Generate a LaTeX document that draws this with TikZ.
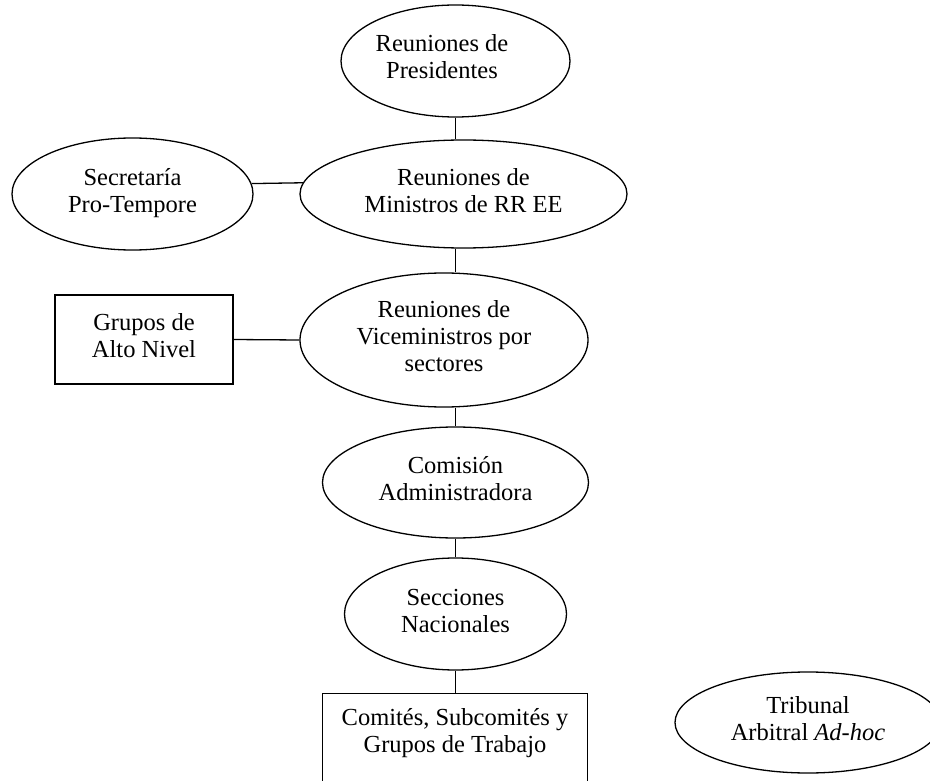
\documentclass[tikz,border=0pt]{standalone}
\usepackage{fontspec}
\setmainfont{Liberation Serif}
\usetikzlibrary{shapes.geometric}
% uniform line strut so that every text line has the same height and depth
\newcommand\lstrut{\rule[-8pt]{0pt}{25pt}}
\begin{document}
\begin{tikzpicture}[x=1pt,y=-1pt,
  every node/.style={font=\fontsize{24.5}{27}\selectfont, text=black},
  oval/.style={ellipse, draw=black, line width=1.3pt, inner sep=0pt, align=center},
  box/.style={rectangle, draw=black, line width=1.3pt, inner sep=0pt, align=center},
  link/.style={draw=black, line width=1.3pt},
  plain/.style={inner sep=0pt, align=center}]
\useasboundingbox (0,0) rectangle (930,781);
\clip (0,0) rectangle (930,781);
\fill[white] (0,0) rectangle (930,781);

% main chain
\node[oval, minimum width=229pt, minimum height=112pt] (pres) at (455.5,61) {};
\node[plain] (presT) at (442,61) {\lstrut Reuniones de\\\lstrut Presidentes};
\node[oval, minimum width=327pt, minimum height=108pt] (min) at (463.5,194)
  {\lstrut Reuniones de\\\lstrut Ministros de RR EE};
\node[oval, minimum width=288pt, minimum height=134pt] (vice) at (444,340)
  {\lstrut Reuniones de\\\lstrut Viceministros por\\\lstrut sectores};
\node[oval, minimum width=266pt, minimum height=111pt] (com) at (455.5,482.5)
  {\lstrut Comisión\\\lstrut Administradora};
\node[oval, minimum width=222pt, minimum height=112pt] (secc) at (455.5,614)
  {\lstrut Secciones\\\lstrut Nacionales};
\node[box, minimum width=265pt, text height=59pt, text depth=48pt, anchor=north] (cmt) at (455,693)
  {\lstrut Comités, Subcomités y\\\lstrut Grupos de Trabajo};

% side bodies
\node[oval, minimum width=241pt, minimum height=112pt] (sec) at (132.5,194)
  {\lstrut Secretaría\\\lstrut Pro-Tempore};
\node[box, minimum width=178pt, minimum height=89pt] (grp) at (144,339.5)
  {\lstrut Grupos de\\\lstrut Alto Nivel};
\node[oval, minimum width=266pt, minimum height=101pt] (trib) at (808,722.5)
  {\lstrut Tribunal\\\lstrut Arbitral \textit{Ad-hoc}};

% connectors
\draw[link] (pres.south) -- (pres.south |- min.north);
\draw[link] (pres.south |- min.south) -- (pres.south |- vice.north);
\draw[link] (pres.south |- vice.south) -- (com.north);
\draw[link] (com.south) -- (secc.north);
\draw[link] (secc.south) -- (secc.south |- cmt.north);
\draw[link] (sec.5.3) -- (min.176.1);
\draw[link] (grp.east) -- (vice.west);
\end{tikzpicture}
\end{document}
